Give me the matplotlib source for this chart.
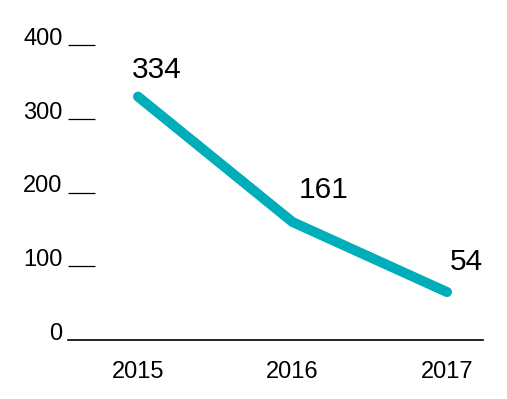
import matplotlib
matplotlib.use('Agg')
import matplotlib.pyplot as plt

# values as shown on the chart
years = [2015, 2016, 2017]
labels = ['334', '161', '54']
# where the line is actually drawn
line_values = [330, 160, 65]
y_ticks = [0, 100, 200, 300, 400]

teal = '#00AEB9'

plt.rcParams['font.family'] = ['Liberation Sans', 'DejaVu Sans']

fig = plt.figure(figsize=(5.07, 3.99), dpi=100)
ax = fig.add_axes([68 / 507, 59 / 399, 415 / 507, 295 / 399])

ax.plot(years, line_values, color=teal, lw=7.2,
        solid_capstyle='round', solid_joinstyle='round')

# value labels sit up and to the right of each point
offsets = [(19, 19), (31, 24), (19, 22)]
for x, y, txt, off in zip(years, line_values, labels, offsets):
    ax.annotate(txt, (x, y), xytext=off, textcoords='offset pixels',
                ha='center', va='baseline', fontsize=21.5, color='black',
                annotation_clip=False)

ax.set_xlim(2015 - 0.453, 2017 + 0.233)
ax.set_ylim(0, 400)

for s in ['top', 'right', 'left']:
    ax.spines[s].set_visible(False)
ax.spines['bottom'].set_linewidth(1.2)
ax.spines['bottom'].set_color('black')

ax.set_xticks(years)
ax.set_xticklabels([str(y) for y in years])
ax.tick_params(axis='x', length=0, pad=15, labelsize=17)

ax.set_yticks(y_ticks)
ax.set_yticklabels([str(t) for t in y_ticks])
ax.tick_params(axis='y', direction='in', length=19.5, width=0.9,
               color='black', pad=4, labelsize=17)
for lab in ax.get_yticklabels():
    lab.set_verticalalignment('baseline')
# the zero tick would just double the baseline
ax.yaxis.get_major_ticks()[0].tick1line.set_visible(False)

fig.savefig('out.png', dpi=100)
